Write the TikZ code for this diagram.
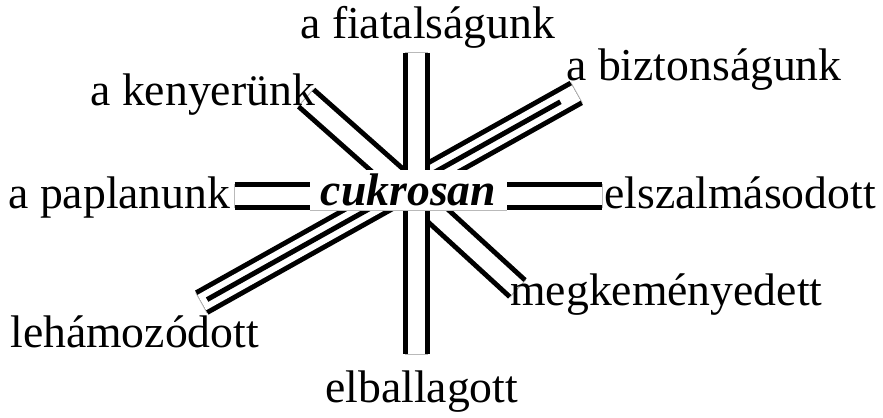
\documentclass[tikz,border=0pt]{standalone}
\usepackage{fontspec}
\setmainfont{Liberation Serif}
\usetikzlibrary{positioning}
\tikzset{
  word/.style={font=\fontsize{26}{30}\selectfont,inner sep=0pt,anchor=base west},
  hubword/.style={font=\fontsize{26}{30}\selectfont\bfseries\itshape,fill=white,
                  inner sep=0pt,minimum width=3.94cm,minimum height=0.8cm},
  spokebed/.style={draw=gray!55,line width=0.47cm},
  spoke/.style={draw=black,line width=0.1cm,double=white,double distance=0.35cm,
                shorten <=0.5pt,shorten >=0.5pt},
  midbar/.style={draw=black,line width=0.1cm},
  capline/.style={draw=gray!55,line width=0.4pt}
}

\begin{document}
\begin{tikzpicture}[x=0.02cm,y=-0.02cm]
  \useasboundingbox (0,0) rectangle (883,417);

  \coordinate (hub) at (416.5,196);
  \coordinate (diag-a) at (201,303);
  \coordinate (diag-b) at (577,92.5);
  \coordinate (kenyer-end) at (305.5,97.5);
  \coordinate (kemeny-end) at (518,289);
  \coordinate (fiatal-end) at (416.5,52);
  \coordinate (ballag-end) at (416.5,355);
  \coordinate (paplan-end) at (234,196);
  \coordinate (szalma-end) at (603,196);

  % slanted spokes first, the straight ones lie on top
  \foreach \a/\b in {diag-a/diag-b,hub/kenyer-end,hub/kemeny-end}{
    \draw[spokebed] (\a) -- (\b);
    \draw[spoke] (\a) -- (\b);
  }
  \draw[midbar,shorten <=0.14cm,shorten >=0.38cm] (diag-a) -- (diag-b);
  \foreach \a/\b in {fiatal-end/ballag-end,paplan-end/szalma-end}{
    \draw[spokebed] (\a) -- (\b);
    \draw[spoke] (\a) -- (\b);
  }

  \node[hubword] (cukor) at (408.5,190) {cukrosan};
  \draw[capline] (cukor.south west) -- (cukor.south east);

  \node[word] (fiatal) at (300,38) {a fiatalságunk};
  \node[word] (kenyer) at (90,105) {a kenyerünk};
  \node[word] (bizton) at (566,80) {a biztonságunk};
  \node[word] (paplan) at (8,208) {a paplanunk};
  \node[word] (szalma) at (604,208) {elszalmásodott};
  \node[word] (hamoz) at (10,347) {lehámozódott};
  \node[word] (kemeny) at (510,305) {megkeményedett};
  \node[word] (ballag) at (325,402) {elballagott};
\end{tikzpicture}
\end{document}
